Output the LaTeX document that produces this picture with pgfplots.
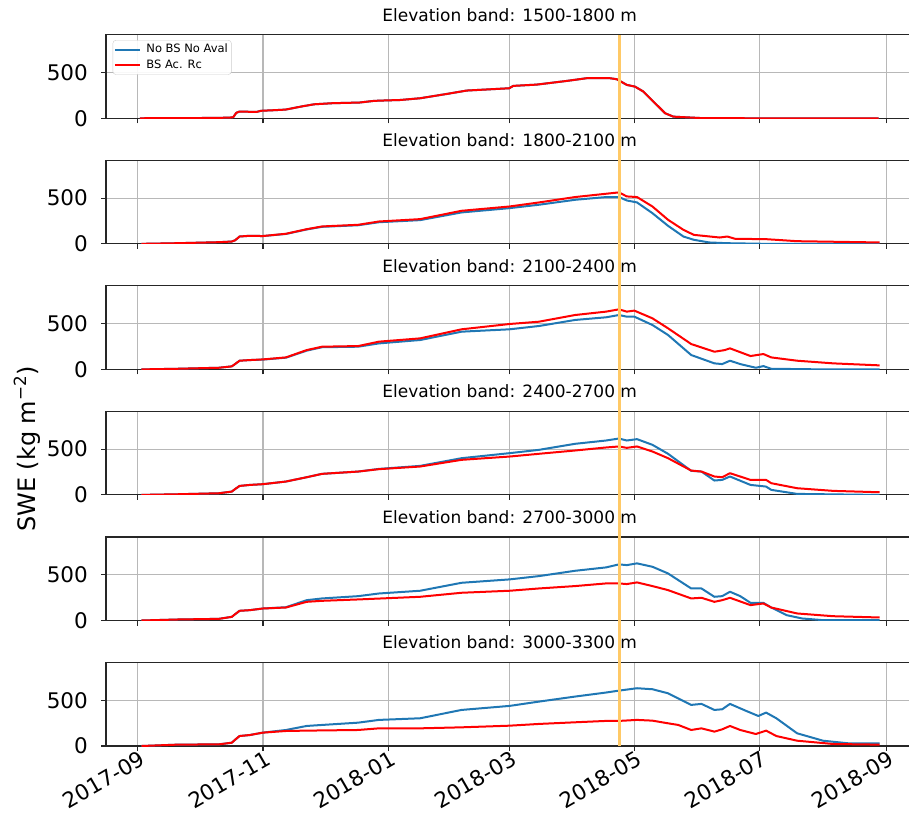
\documentclass[border=0pt]{standalone}
\usepackage{pgfplots}
\pgfplotsset{compat=1.18}
\usepackage{fontspec}
\setmainfont{DejaVu Sans}
\definecolor{mblue}{RGB}{31,119,180}
\definecolor{mred}{RGB}{255,0,0}
\definecolor{morange}{RGB}{255,201,102}
\pgfplotsset{
  panel/.style={
    scale only axis, width=807.4pt, height=83.5pt,
    xmin=-15.5, xmax=378, ymin=0, ymax=912,
    xtick={0,61,122,181,242,303,365}, ytick={0,500},
    xticklabels={},
    grid=major, grid style={color=black!28, line width=1.1pt},
    axis line style={black!85, line width=1.1pt},
    tick style={black!85, line width=1.1pt},
    major tick length=5pt, tick align=outside,
    xtick pos=bottom, ytick pos=left,
    /pgf/number format/assume math mode=true,
    yticklabel style={font=\fontsize{21.5}{24}\selectfont, inner sep=0pt, xshift=-13pt},
    title style={font=\fontsize{17}{20}\selectfont, at={(0.5,1)}, anchor=base, yshift=7.7pt},
    every axis plot/.append style={line width=2pt, line join=round},
  },
  bl/.style={mblue},
  rd/.style={mred},
}
\begin{document}
\begin{tikzpicture}
\useasboundingbox (0pt,0pt) rectangle (909pt,820pt);
\clip (0pt,0pt) rectangle (909pt,820pt);

% Panel 1
\begin{axis}[panel, at={(106pt,701.7pt)}, anchor=south west,
  title={Elevation band: 1500-1800 m},
  legend style={at={(0,1)}, anchor=north west, xshift=6.7pt, yshift=-5.3pt,
    draw=black!20, rounded corners=3pt, fill=white, fill opacity=0.9, text opacity=1,
    font=\fontsize{11.5}{13}\selectfont, inner xsep=1pt, inner ysep=1.5pt, row sep=0pt,
    nodes={text height=8.4pt, text depth=2.6pt, inner ysep=2.3pt, inner xsep=2.5pt},
    /tikz/every odd column/.append style={column sep=3pt}},
  legend image code/.code={\draw[#1, line width=2pt] (0pt,0pt) -- (25pt,0pt);},
  legend cell align=left]
\addplot[bl] coordinates {(1,0) (10,2) (20,3) (30,3) (40,5) (45,8) (46.5,12) (48,60) (49.5,73) (58,70) (60,82) (66,88) (72,95) (80,130) (86,153) (95,165) (108,172) (115,190) (118,193) (128,200) (137.6,219) (150.6,266) (160.3,303) (181,328) (183,354) (194.4,368) (209,408) (218.8,438) (230,438) (233.4,427) (238.3,365) (242.3,346) (246.4,292) (251.3,182) (257,55) (261,18) (274,3) (300,0) (361,0)};
\addlegendentry{No BS No Aval}
\addplot[rd] coordinates {(1,0) (10,2) (20,3) (30,3) (40,5) (45,8) (46.5,12) (48,60) (49.5,73) (58,70) (60,82) (66,88) (72,95) (80,130) (86,153) (95,165) (108,172) (115,190) (118,193) (128,200) (137.6,219) (150.6,266) (160.3,303) (181,328) (183,354) (194.4,368) (209,408) (218.8,438) (230,438) (233.4,427) (238.3,365) (242.3,346) (246.4,292) (251.3,182) (257,55) (261,18) (274,3) (300,0) (361,0)};
\addlegendentry{BS Ac. Rc}
\coordinate (ot) at (axis cs:234.7,912);
\end{axis}

% Panel 2
\begin{axis}[panel, at={(106pt,576.16pt)}, anchor=south west,
  title={Elevation band: 1800-2100 m}]
\addplot[bl] coordinates {(1.8,0) (19.4,7) (39.5,18) (45.8,25) (47.5,40) (49.6,80) (54.6,88) (60.9,85) (72.2,108) (82.3,157) (89.8,186) (107.4,203) (117.5,236) (137.6,259) (157.8,343) (181.2,390) (195.5,427) (213.1,481) (228.2,511) (234.5,511) (238.3,474) (243.3,452) (250.8,335) (258.4,197) (265.9,80) (271,44) (278.5,15) (287.3,7) (306,0) (361.5,0)};
\addplot[rd] coordinates {(1.8,0) (19.4,7) (39.5,18) (45.8,25) (47.5,40) (49.6,80) (54.6,88) (60.9,85) (72.2,110) (82.3,160) (89.8,190) (107.4,208) (117.5,244) (137.6,270) (157.8,361) (181.2,408) (195.5,452) (213.1,511) (228.2,547) (234.5,562) (238.3,518) (243.3,511) (250.8,408) (258.4,263) (265.9,153) (271,98) (283.6,69) (287.3,80) (291.1,55) (306.2,51) (321.3,29) (361.5,15)};
\end{axis}

% Panel 3
\begin{axis}[panel, at={(106pt,450.6pt)}, anchor=south west,
  title={Elevation band: 2100-2400 m}]
\addplot[bl] coordinates {(1.8,0) (19.4,7) (39.5,18) (45.8,33) (47.5,60) (49.6,95) (54.6,102) (60.9,107) (72.2,128) (82.3,205) (89.8,242) (107.4,248) (117.5,284) (137.6,321) (157.8,412) (181.2,438) (195.5,474) (213.1,540) (228.2,569) (234.5,594) (238.3,576) (242,576) (250.8,485) (258.4,376) (269.7,157) (281,66) (284.8,58) (288.6,95) (293.6,58) (301.2,18) (304.9,36) (308.7,7) (333.9,0) (361.5,0)};
\addplot[rd] coordinates {(1.8,0) (19.4,7) (39.5,18) (45.8,33) (47.5,60) (49.6,95) (54.6,102) (60.9,109) (72.2,131) (82.3,211) (89.8,248) (107.4,255) (117.5,303) (137.6,339) (157.8,438) (181.2,496) (195.5,521) (213.1,594) (228.2,631) (234.5,656) (238.3,631) (242,642) (250.8,558) (258.4,449) (269.7,277) (281,193) (286.1,211) (288.6,230) (298.6,146) (304.9,168) (308.7,131) (321.3,95) (338.9,66) (361.5,44)};
\end{axis}

% Panel 4
\begin{axis}[panel, at={(106pt,325.1pt)}, anchor=south west,
  title={Elevation band: 2400-2700 m}]
\addplot[bl] coordinates {(1.8,0) (19.4,7) (39.5,18) (45.8,36) (47.5,65) (49.6,98) (54.6,109) (60.9,117) (72.2,146) (82.3,193) (89.8,230) (107.4,255) (117.5,284) (137.6,317) (157.8,401) (181.2,456) (195.5,492) (213.1,558) (228.2,594) (234.5,616) (238.3,594) (243.3,609) (250.8,547) (258.4,449) (269.7,263) (274.7,255) (281,157) (284.8,164) (288.6,201) (298.6,109) (306.2,91) (308.7,55) (321.3,11) (359,0) (361.5,0)};
\addplot[rd] coordinates {(1.8,0) (19.4,7) (39.5,18) (45.8,36) (47.5,65) (49.6,98) (54.6,109) (60.9,117) (72.2,146) (82.3,193) (89.8,230) (107.4,255) (117.5,281) (137.6,310) (157.8,383) (181.2,419) (195.5,449) (213.1,485) (228.2,518) (234.5,529) (238.3,514) (243.3,529) (250.8,474) (258.4,401) (269.7,266) (274.7,255) (281,201) (284.8,193) (288.6,237) (298.6,164) (306.2,164) (308.7,128) (321.3,73) (338.9,44) (361.5,29)};
\end{axis}

% Panel 5
\begin{axis}[panel, at={(106pt,199.5pt)}, anchor=south west,
  title={Elevation band: 2700-3000 m}]
\addplot[bl] coordinates {(1.8,0) (19.4,11) (39.5,18) (45.8,40) (47.5,70) (49.6,106) (54.6,113) (60.9,131) (72.2,145) (82.3,222) (89.8,241) (107.4,266) (117.5,295) (137.6,325) (157.8,412) (181.2,449) (195.5,485) (213.1,543) (228.2,580) (234.5,613) (238.3,605) (243.3,624) (250.8,587) (258.4,514) (269.7,350) (274.7,350) (281,259) (284.8,266) (288.6,314) (293.6,266) (298.6,193) (304.9,193) (308.7,142) (316.3,58) (323.8,22) (333.9,4) (361.5,4)};
\addplot[rd] coordinates {(1.8,0) (19.4,11) (39.5,18) (45.8,40) (47.5,70) (49.6,106) (54.6,113) (60.9,131) (72.2,142) (82.3,204) (89.8,215) (107.4,230) (137.6,259) (157.8,303) (181.2,325) (195.5,350) (213.1,376) (228.2,405) (234.5,405) (238.3,398) (243.3,416) (250.8,376) (258.4,332) (269.7,241) (274.7,248) (281,204) (284.8,222) (288.6,248) (298.6,168) (304.9,186) (308.7,142) (321.3,77) (338.9,47) (361.5,33)};
\end{axis}

% Panel 6
\begin{axis}[panel, at={(106pt,74pt)}, anchor=south west,
  title={Elevation band: 3000-3300 m},
  xticklabels={2017-09,2017-11,2018-01,2018-03,2018-05,2018-07,2018-09},
  xticklabel style={font=\fontsize{21.5}{24}\selectfont, inner sep=0pt, xshift=1pt, yshift=1pt, rotate=30, anchor=north east}]
\addplot[bl] coordinates {(1.8,0) (19.4,15) (39.5,18) (45.8,36) (47.5,70) (49.6,109) (54.6,120) (60.9,146) (72.2,175) (82.3,219) (89.8,230) (107.4,255) (117.5,285) (137.6,303) (157.8,394) (181.2,438) (195.5,485) (213.1,540) (228.2,584) (234.5,605) (243.3,631) (250.8,620) (258.4,576) (269.7,449) (274.7,460) (281,394) (284.8,401) (288.6,460) (296.1,387) (302.4,328) (306.2,365) (311.2,303) (321.3,139) (333.9,58) (346.5,29) (361.5,29)};
\addplot[rd] coordinates {(1.8,0) (19.4,15) (39.5,18) (45.8,36) (47.5,70) (49.6,109) (54.6,120) (60.9,146) (72.2,164) (82.3,168) (107.4,175) (117.5,193) (137.6,193) (157.8,204) (181.2,222) (195.5,241) (213.1,259) (228.2,274) (234.5,274) (243.3,285) (250.8,277) (258.4,248) (263.4,230) (269.7,175) (274.7,193) (281,157) (284.8,182) (288.6,219) (293.6,175) (301.2,131) (306.2,168) (311.2,109) (321.3,58) (338.9,22) (361.5,15)};
\coordinate (ob) at (axis cs:234.7,0);
\end{axis}

\draw[morange, line width=3.6pt] (ot) -- (ob);
\node[rotate=90, font=\fontsize{24}{28}\selectfont] at (27pt,371pt) {SWE (kg m\textsuperscript{−2})};
\end{tikzpicture}
\end{document}
